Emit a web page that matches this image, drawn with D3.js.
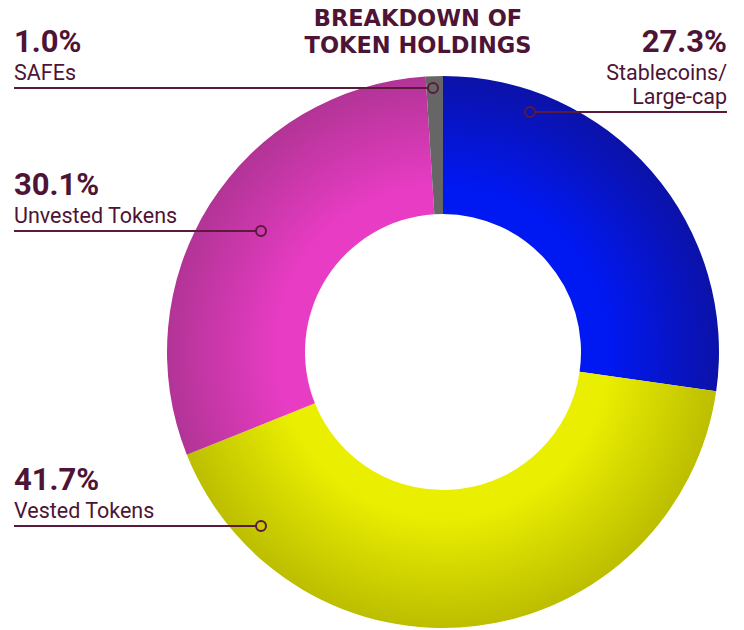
<!DOCTYPE html>
<html lang="en">
<head>
    <meta charset="UTF-8">
    <title>Breakdown of Token Holdings</title>
    <script src="https://d3js.org/d3.v7.min.js"></script>
    <style>
        body { margin: 0; background: #fff; }
        svg { display: block; font-family: Roboto, "Noto Sans", sans-serif; }
        .pct { font-weight: 700; font-size: 31px; fill: #4d1435; }
        .name { font-size: 21.5px; fill: #4d1435; }
        .title { font-family: "DejaVu Sans", sans-serif; font-weight: 700; font-size: 22.5px; fill: #4d1435; }
    </style>
</head>
<body>
<div id="chart"></div>
<script>
    // slice data, clockwise from 12 o'clock
    var categories = ["Stablecoins/\nLarge-cap", "Vested Tokens", "Unvested Tokens", "SAFEs"];
    var shares = [27.3, 41.7, 30.1, 1.0];
    var labels = ["27.3%", "41.7%", "30.1%", "1.0%"];
    var innerColors = ["#0018f2", "#eaee00", "#e83cc4", "#666666"];
    var outerColors = ["#0c12a8", "#bcbe00", "#b23496", "#666666"];

    var width = 744, height = 630;
    var cx = 443, cy = 352, outerR = 276, innerR = 138;

    // callout layout: side, line y, where the dot sits
    var callouts = [
        { side: "right", lineY: 112, dotX: 530 },
        { side: "left", lineY: 526, dotX: 261 },
        { side: "left", lineY: 231, dotX: 261 },
        { side: "left", lineY: 88, dotX: 433 }
    ];

    var svg = d3.select("#chart").append("svg")
        .attr("width", width)
        .attr("height", height);

    // radial shading: bright near the hole, darker toward the rim
    var defs = svg.append("defs");
    shares.forEach(function (s, i) {
        var g = defs.append("radialGradient")
            .attr("id", "grad" + i)
            .attr("gradientUnits", "userSpaceOnUse")
            .attr("cx", 0).attr("cy", 0).attr("r", outerR);
        g.append("stop").attr("offset", 0.5).attr("stop-color", innerColors[i]);
        g.append("stop").attr("offset", 0.6).attr("stop-color", innerColors[i]);
        g.append("stop").attr("offset", 1).attr("stop-color", outerColors[i]);
    });

    var pie = d3.pie().sort(null).value(function (d) { return d; });
    var arc = d3.arc().innerRadius(innerR).outerRadius(outerR);

    svg.append("g")
        .attr("transform", "translate(" + cx + "," + cy + ")")
        .selectAll("path")
        .data(pie(shares))
        .enter()
        .append("path")
        .attr("d", arc)
        .attr("fill", function (d, i) { return "url(#grad" + i + ")"; });

    // title
    svg.append("text").attr("class", "title").attr("text-anchor", "middle")
        .attr("x", 418).attr("y", 26).text("BREAKDOWN OF");
    svg.append("text").attr("class", "title").attr("text-anchor", "middle")
        .attr("x", 418).attr("y", 53).text("TOKEN HOLDINGS");

    // callouts
    var lineColor = "#5a1a3c";
    callouts.forEach(function (c, i) {
        var right = c.side === "right";
        var edge = right ? 727 : 14;
        var anchor = right ? "end" : "start";
        var nameLines = categories[i].split("\n");
        var textBottom = c.lineY - 8;
        var firstNameY = textBottom - (nameLines.length - 1) * 24;
        var pctY = firstNameY - 28;

        svg.append("text").attr("class", "pct")
            .attr("x", edge).attr("y", pctY)
            .attr("text-anchor", anchor)
            .text(labels[i]);

        nameLines.forEach(function (t, j) {
            svg.append("text").attr("class", "name")
                .attr("x", edge).attr("y", firstNameY + j * 24)
                .attr("text-anchor", anchor)
                .text(t);
        });

        svg.append("line")
            .attr("x1", edge).attr("x2", right ? c.dotX + 5 : c.dotX - 5)
            .attr("y1", c.lineY).attr("y2", c.lineY)
            .attr("stroke", lineColor).attr("stroke-width", 2);

        svg.append("circle")
            .attr("cx", c.dotX).attr("cy", c.lineY).attr("r", 5)
            .attr("fill", "none")
            .attr("stroke", lineColor).attr("stroke-width", 2);
    });
</script>
</body>
</html>
